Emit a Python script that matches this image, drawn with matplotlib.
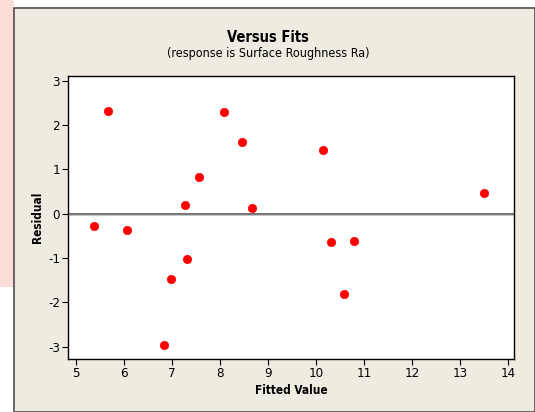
import matplotlib
matplotlib.use("Agg")
import matplotlib.pyplot as plt
from matplotlib.patches import Rectangle

fitted = [5.38, 5.67, 6.07, 6.84, 6.98, 7.28, 7.32, 7.57, 8.08, 8.46, 8.66,
          10.15, 10.32, 10.59, 10.79, 13.49]
residual = [-0.28, 2.32, -0.37, -2.96, -1.48, 0.20, -1.02, 0.83, 2.29, 1.62, 0.13,
            1.43, -0.64, -1.82, -0.62, 0.47]
xticks = [5, 6, 7, 8, 9, 10, 11, 12, 13, 14]
yticks = [-3, -2, -1, 0, 1, 2, 3]

W, H = 535, 412
fig = plt.figure(figsize=(W / 100, H / 100), dpi=100)
fig.patch.set_facecolor("white")

fig.patches.append(Rectangle((0, (H - 287) / H), 14 / W, 287 / H, transform=fig.transFigure,
                             facecolor="#FCDCD6", edgecolor="none", zorder=0))
fig.patches.append(Rectangle((14 / W, 0), (W - 14) / W, (H - 8) / H, transform=fig.transFigure,
                             facecolor="#EFEBE1", edgecolor="#505050", linewidth=1.2, zorder=1))

ax = fig.add_axes([68.3 / W, (H - 359) / H, (514 - 68.3) / W, (359 - 76) / H])
ax.set_zorder(2)
ax.set_facecolor("white")
ax.axhline(0, color="#6A6A6A", linewidth=1.3, zorder=1)
ax.axhline(-0.035, color="#C8C8C8", linewidth=0.8, zorder=1)
ax.plot(fitted, residual, linestyle="none", marker="o", markersize=6,
        color="#FF0000", markeredgecolor="#FF0000", markeredgewidth=0.5, zorder=3)

ax.set_xlim(4.84, 14.12)
ax.set_ylim(-3.28, 3.106)
ax.set_xticks(xticks)
ax.set_yticks(yticks)
fam = "DejaVu Sans"
st = "condensed"
ax.set_xticklabels([str(t) for t in xticks], fontsize=9.5, family=fam, stretch=st)
ax.set_yticklabels([str(t) for t in yticks], fontsize=9.5, family=fam, stretch=st)
ax.tick_params(direction="out", length=4, width=0.8, color="black", pad=2)
for s in ax.spines.values():
    s.set_linewidth(1.0)
    s.set_color("black")

fig.text(268 / W, 1 - 37 / H, "Versus Fits", ha="center", va="center",
         fontsize=10.5, fontweight="bold", family=fam, stretch=st)
fig.text(268 / W, 1 - 54 / H, "(response is Surface Roughness Ra)", ha="center", va="center",
         fontsize=9, family=fam, stretch=st)
fig.text(291 / W, 1 - 390 / H, "Fitted Value", ha="center", va="center",
         fontsize=8.5, fontweight="bold", family=fam, stretch=st)
fig.text(38 / W, 1 - 217 / H, "Residual", ha="center", va="center", rotation=90,
         fontsize=8.5, fontweight="bold", family=fam, stretch=st)

fig.savefig("out.png", dpi=100)
